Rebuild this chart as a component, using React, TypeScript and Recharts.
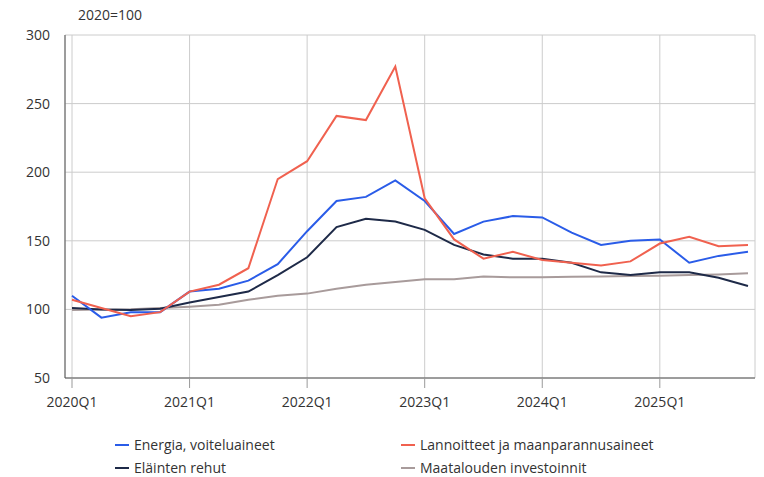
import React from 'react'
import { LineChart, Line, XAxis, YAxis, CartesianGrid } from 'recharts'

const quarters = [
  '2020Q1', '2020Q2', '2020Q3', '2020Q4',
  '2021Q1', '2021Q2', '2021Q3', '2021Q4',
  '2022Q1', '2022Q2', '2022Q3', '2022Q4',
  '2023Q1', '2023Q2', '2023Q3', '2023Q4',
  '2024Q1', '2024Q2', '2024Q3', '2024Q4',
  '2025Q1', '2025Q2', '2025Q3', '2025Q4',
]

const energia = [
  110, 94, 98, 98, 113, 115, 121, 133, 157, 179, 182, 194,
  179, 155, 164, 168, 167, 156, 147, 150, 151, 134, 139, 142,
]
const lannoitteet = [
  107, 101, 95, 98, 113, 118, 130, 195, 208, 241, 238, 277,
  181, 151, 137, 142, 136, 134, 132, 135, 148, 153, 146, 147,
]
const rehut = [
  101, 100, 99.5, 100.5, 105, 109, 113, 125, 138, 160, 166, 164,
  158, 147, 140, 137, 137, 134, 127, 125, 127, 127, 123, 117,
]
const investoinnit = [
  99.5, 100, 100.2, 101, 102, 103.4, 107, 110, 111.5, 115, 118, 120,
  122, 122, 124, 123.4, 123.4, 123.8, 124, 124.3, 124.6, 125, 125.5, 126.3,
]

const yTicks = [50, 100, 150, 200, 250, 300]

const series = [
  { key: 'investoinnit', name: 'Maatalouden investoinnit', color: '#a89b9b' },
  { key: 'rehut', name: 'Eläinten rehut', color: '#1e2a48' },
  { key: 'energia', name: 'Energia, voiteluaineet', color: '#2a5ce8' },
  { key: 'lannoitteet', name: 'Lannoitteet ja maanparannusaineet', color: '#f0614f' },
]

// legend order as in the picture: two columns, two rows
const legendRows = [
  ['energia', 'lannoitteet'],
  ['rehut', 'investoinnit'],
]

const data = quarters.map((q, i) => ({
  q,
  energia: energia[i],
  lannoitteet: lannoitteet[i],
  rehut: rehut[i],
  investoinnit: investoinnit[i],
}))

const font = '"Open Sans", "Noto Sans", sans-serif'
const textColor = '#333333'

export default function App() {
  const colLeft = [115, 401]
  const rowTop = [435, 458]

  return (
    <div
      style={{
        position: 'absolute',
        left: 0,
        top: 0,
        width: 764,
        height: 477,
        background: '#ffffff',
        fontFamily: font,
        color: textColor,
      }}
    >
      <div style={{ position: 'absolute', left: 78, top: 5, fontSize: 14 }}>2020=100</div>

      <LineChart
        width={764}
        height={420}
        data={data}
        margin={{ top: 35, right: 9, left: 0, bottom: 0 }}
      >
        <CartesianGrid stroke="#cccccc" strokeWidth={1} />
        <XAxis
          dataKey="q"
          interval={3}
          height={42}
          padding={{ left: 7, right: 7 }}
          tickSize={10}
          tickMargin={9}
          stroke="#555555"
          tickLine={{ stroke: '#999999' }}
          tick={{ fill: textColor, fontSize: 14, fontFamily: font }}
        />
        <YAxis
          domain={[50, 300]}
          ticks={yTicks}
          width={65}
          tickLine={false}
          tickSize={6}
          tickMargin={9}
          stroke="#555555"
          tick={{ fill: textColor, fontSize: 14, fontFamily: font }}
        />
        {series.map((s) => (
          <Line
            key={s.key}
            type="linear"
            dataKey={s.key}
            name={s.name}
            stroke={s.color}
            strokeWidth={2}
            dot={false}
            isAnimationActive={false}
          />
        ))}
      </LineChart>

      {legendRows.map((row, r) =>
        row.map((key, c) => {
          const s = series.find((x) => x.key === key)!
          return (
            <div
              key={key}
              style={{
                position: 'absolute',
                left: colLeft[c],
                top: rowTop[r],
                display: 'flex',
                alignItems: 'center',
                fontSize: 14,
                whiteSpace: 'nowrap',
              }}
            >
              <span
                style={{
                  display: 'inline-block',
                  width: 14,
                  height: 2,
                  background: s.color,
                  marginRight: 5,
                }}
              />
              {s.name}
            </div>
          )
        })
      )}
    </div>
  )
}
